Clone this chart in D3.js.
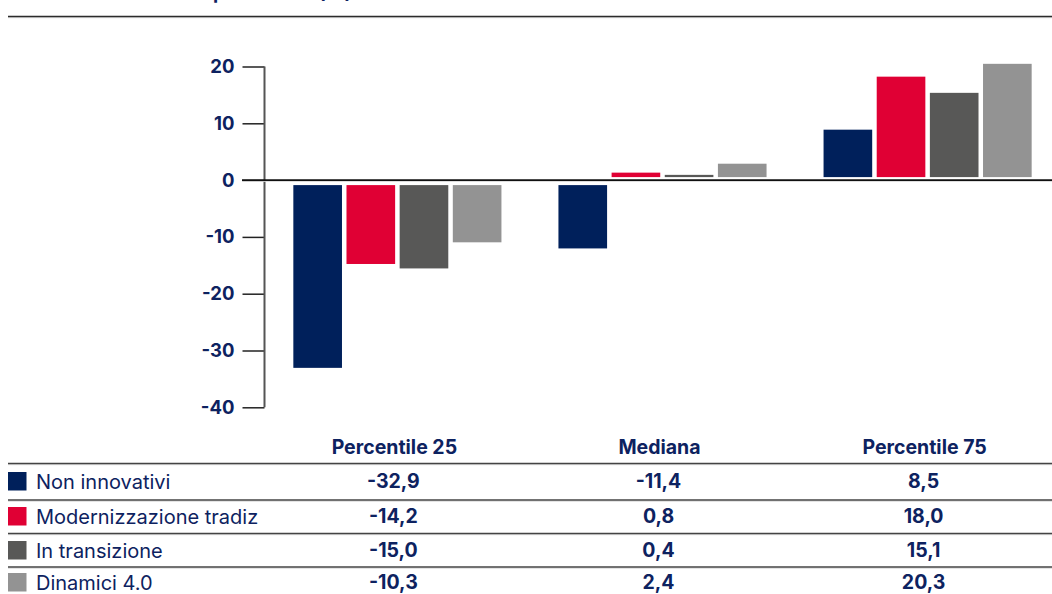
<!DOCTYPE html>
<html>
<head>
<meta charset="utf-8">
<script src="https://cdn.jsdelivr.net/npm/d3@7"></script>
<style>
  html, body { margin: 0; padding: 0; background: #fff; }
  svg { display: block; font-family: Inter, "Noto Sans", sans-serif; }
</style>
</head>
<body>
<svg id="chart" width="1052" height="594"></svg>
<script>
// ---- data ----
const categories = ["Percentile 25", "Mediana", "Percentile 75"];
const seriesNames = ["Non innovativi", "Modernizzazione tradiz", "In transizione", "Dinamici 4.0"];
const nonInnovativi = [-32.9, -11.4, 8.5];
const modernizzazione = [-14.2, 0.8, 18.0];
const inTransizione = [-15.0, 0.4, 15.1];
const dinamici = [-10.3, 2.4, 20.3];
const yTicks = [20, 10, 0, -10, -20, -30, -40];
const titleTail = "per settore (%)";

// ---- styles ----
const colors = ["#00205b", "#e00034", "#585857", "#939393"];
const textColor = "#0d2260";
const values = [nonInnovativi, modernizzazione, inTransizione, dinamici];

const svg = d3.select("#chart");
const W = 1052;

// title remnant (cut off at top, as in the reference)
svg.append("text")
  .attr("x", 213).attr("y", -1)
  .attr("fill", textColor)
  .style("font-size", "19px").style("font-weight", 700)
  .text(titleTail);

function rule(y, x0, x1, color, w) {
  svg.append("line").attr("x1", x0).attr("x2", x1).attr("y1", y + 1.2).attr("y2", y + 1.2)
    .attr("stroke", "#d8d8d8").attr("stroke-width", 1);
  svg.append("line").attr("x1", x0).attr("x2", x1).attr("y1", y).attr("y2", y)
    .attr("stroke", color).attr("stroke-width", w);
}
rule(16.5, 8, W, "#2b2b2b", 1.5);

// ---- scales ----
const y = d3.scaleLinear().domain([-40, 20]).range([407.3, 66.5]);
const y0 = y(0);
const yPos = d3.scaleLinear().domain([0, 20]).range([y0 - 3, y(20) - 1]);
const yNeg = d3.scaleLinear().domain([0, -40]).range([y0 + 5, y(-40)]);

const x = d3.scaleBand().domain(categories).range([265.5, 1059.5])
  .paddingInner(0.215).paddingOuter(0.105);
const xs = d3.scaleBand().domain(seriesNames).range([0, x.bandwidth()]).paddingInner(0.085);

// ---- y axis ----
const axisX = 264.5;
const gAxis = svg.append("g").attr("transform", `translate(${axisX},0)`)
  .call(d3.axisLeft(y).tickValues(yTicks).tickSize(22).tickPadding(8)
    .tickFormat(d => String(d)));
gAxis.select(".domain").remove();
gAxis.selectAll(".tick line").attr("stroke", "#222").attr("stroke-width", 1.5);
gAxis.selectAll(".tick text")
  .attr("fill", textColor)
  .style("font-size", "18.5px").style("font-weight", 700)
  .style("font-family", "Inter, 'Noto Sans', sans-serif");
svg.append("line").attr("x1", axisX).attr("x2", axisX).attr("y1", y(20)).attr("y2", y(-40))
  .attr("stroke", "#555").attr("stroke-width", 2);

// ---- bars ----
const gBars = svg.append("g");
seriesNames.forEach((s, si) => {
  gBars.selectAll(null).data(values[si].map((v, i) => ({ c: categories[i], v })))
    .enter().append("rect")
    .attr("x", d => x(d.c) + xs(s))
    .attr("width", xs.bandwidth())
    .attr("y", d => d.v >= 0 ? yPos(d.v) : yNeg(0))
    .attr("height", d => d.v >= 0 ? yPos(0) - yPos(d.v) : yNeg(d.v) - yNeg(0))
    .attr("fill", colors[si]);
});

// zero line
svg.append("line").attr("x1", 242).attr("x2", W).attr("y1", y0 + 1.2).attr("y2", y0 + 1.2)
  .attr("stroke", "#d6d6d6").attr("stroke-width", 1);
svg.append("line").attr("x1", 242).attr("x2", W).attr("y1", y0).attr("y2", y0)
  .attr("stroke", "#111").attr("stroke-width", 1.6);

// ---- data table ----
const headerY = 447;
svg.append("g").selectAll("text").data(categories).enter().append("text")
  .attr("x", d => x(d) + x.bandwidth() / 2 - 3)
  .attr("y", headerY).attr("dy", "0.35em")
  .attr("text-anchor", "middle")
  .attr("fill", textColor)
  .style("font-size", "19.5px").style("font-weight", 700)
  .text(d => d);

const lineYs = [463.5, 500, 533.5, 567];
const rowCenters = [481.5, 516.5, 550.5, 582.5];
lineYs.forEach(ly => rule(ly, 8, W, "#444", 1.5));

const fmt = v => d3.format(".1f")(v).replace(".", ",").replace("\u2212", "-");
seriesNames.forEach((s, si) => {
  const cy = rowCenters[si];
  svg.append("rect").attr("x", 8).attr("y", cy - 9.5).attr("width", 18.5).attr("height", 18.5)
    .attr("fill", colors[si]);
  svg.append("text").attr("x", 36).attr("y", cy).attr("dy", "0.35em")
    .attr("fill", textColor).style("font-size", "20px").style("font-weight", 400)
    .text(s);
  svg.append("g").selectAll("text").data(values[si]).enter().append("text")
    .attr("x", (d, i) => x(categories[i]) + x.bandwidth() / 2 - 4)
    .attr("y", cy).attr("dy", "0.35em")
    .attr("text-anchor", "middle")
    .attr("fill", textColor)
    .style("font-size", "19.5px").style("font-weight", 700)
    .text(d => fmt(d));
});
</script>
</body>
</html>
